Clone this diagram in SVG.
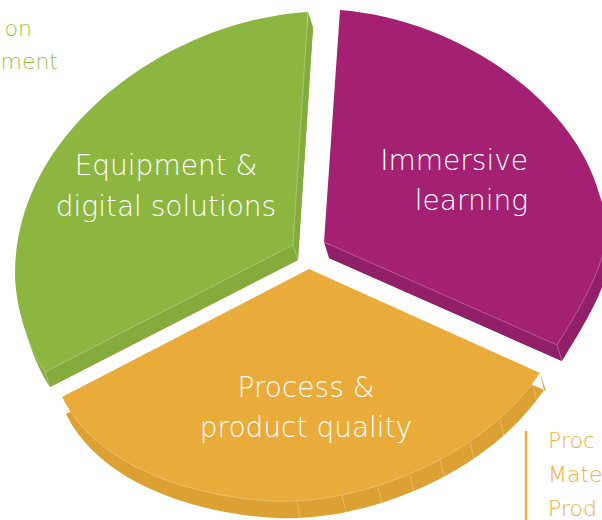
<svg xmlns="http://www.w3.org/2000/svg" width="602" height="520" viewBox="0 0 602 520">
<style>
.lbl{font-family:"DejaVu Sans","Liberation Sans",sans-serif;font-weight:300;font-size:28px;fill:#ffffff}
.edge{fill:none;stroke:#ffffff;stroke-opacity:0.35;stroke-width:0.8}
.side-g{fill:#85AB3C}
.top-g{fill:#8DB640}
.side-m{fill:#912068}
.top-m{fill:#A32072}
.side-o{fill:#DCA033}
.top-o{fill:#E9AB3A}
.aside{font-family:"DejaVu Sans","Liberation Sans",sans-serif;font-weight:300}
</style>
<rect width="602" height="520" fill="#ffffff"/>

<g id="slice-equipment">
  <path class="side-g" transform="translate(5,15)" d="M 308,12 C 170,20 15,130 15,273 C 15,310 30,350 45,372 L 293,245 Z"/>
  <polygon class="side-g" points="308,12 313,27 298,260 293,245"/>
  <polygon class="side-g" points="293,245 298,260 50,387 45,372"/>
  <path class="top-g" d="M 308,12 C 170,20 15,130 15,273 C 15,310 30,350 45,372 L 293,245 Z"/>
  <path class="edge" d="M 308,12 L 293,245 L 45,372 M 293,245 L 298,260 M 45,372 L 50,387 M 15,285 C 17,315 30,350 45,372"/>
  <text class="lbl" x="166" y="175" text-anchor="middle">Equipment &amp;</text>
  <text class="lbl" x="166" y="216" text-anchor="middle">digital solutions</text>
</g>

<g id="slice-immersive">
  <path class="side-m" transform="translate(5,16)" d="M 340,10 C 470,20 605,120 605,235 C 605,270 575,315 557,345 L 324,242 Z"/>
  <polygon class="side-m" points="324,242 329,258 562,361 557,345"/>
  <path class="top-m" d="M 340,10 C 470,20 605,120 605,235 C 605,270 575,315 557,345 L 324,242 Z"/>
  <path class="edge" d="M 324,242 L 557,345 L 562,361 M 557,345 C 575,315 605,270 605,235"/>
  <text class="lbl" x="528" y="170" text-anchor="end">Immersive</text>
  <text class="lbl" x="528" y="210" text-anchor="end">learning</text>
</g>

<g id="slice-process">
  <path class="side-o" transform="translate(4,17)" d="M 309,269 L 540,373 C 485,455 365,505 273,501 C 190,497 95,465 62,397 Z"/>
  <polygon class="side-o" points="540,373 546,391 544,390"/>
  <path class="top-o" d="M 309,269 L 540,373 C 485,455 365,505 273,501 C 190,497 95,465 62,397 Z"/>
  <path class="edge" d="M 62,397 C 95,465 190,497 273,501 C 365,505 485,455 540,373 M 62,397 L 66,413"/>
  <path class="edge" d="M 297,501 L 300,518 M 342,495 L 346,512 M 378,487 L 382,504 M 410,475 L 414,492 M 440,460 L 444,477 M 470,442 L 474,459 M 500,420 L 504,437 M 533,385 L 537,402"/>
  <text class="lbl" x="306" y="397" text-anchor="middle">Process &amp;</text>
  <text class="lbl" x="306" y="437" text-anchor="middle">product quality</text>
</g>

<g id="legend-top-left">
  <text class="aside" x="32" y="36" font-size="22" fill="#8DC63F" text-anchor="end">on</text>
  <text class="aside" x="58" y="69" font-size="22" fill="#8DC63F" text-anchor="end">ment</text>
</g>

<g id="legend-bottom-right">
  <line x1="526" y1="431" x2="526" y2="520" stroke="#F4AD3E" stroke-width="2.5"/>
  <text class="aside" x="548" y="448" font-size="22" fill="#F4AD3E">Proc</text>
  <text class="aside" x="548" y="482" font-size="22" fill="#F4AD3E">Mate</text>
  <text class="aside" x="548" y="516" font-size="22" fill="#F4AD3E">Prod</text>
</g>

<g id="connectors"/>
</svg>
